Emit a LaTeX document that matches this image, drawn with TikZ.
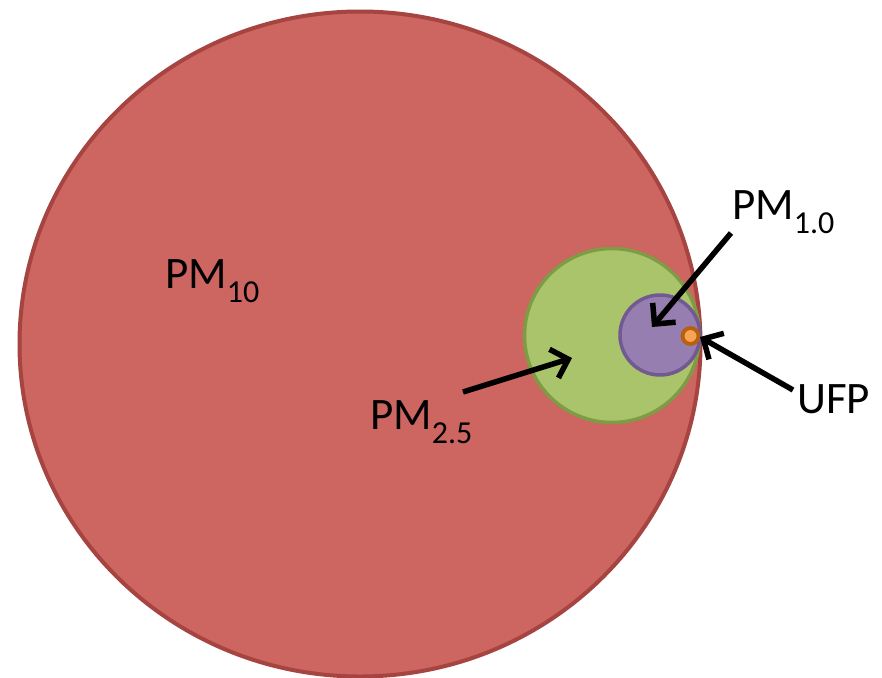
\documentclass[tikz,border=0pt]{standalone}
\usepackage{fontspec}
\setmainfont{Carlito}
\usetikzlibrary{shapes.geometric,arrows.meta}
\definecolor{redfill}{RGB}{205,101,96}
\definecolor{redline}{RGB}{165,68,64}
\definecolor{greenfill}{RGB}{170,196,108}
\definecolor{greenline}{RGB}{126,156,68}
\definecolor{purplefill}{RGB}{150,126,176}
\definecolor{purpleline}{RGB}{112,90,145}
\definecolor{orangefill}{RGB}{248,164,84}
\definecolor{orangeline}{RGB}{183,96,16}
\newcommand{\pmlabel}[2]{#1\raisebox{-14pt}{\fontsize{32}{32}\selectfont #2}}
\begin{document}
\begin{tikzpicture}[x=1pt,y=-1pt,
  blob/.style={ellipse,inner sep=0pt,outer sep=0pt},
  lbl/.style={inner sep=0pt,anchor=base west,font=\fontsize{45}{50}\selectfont},
  pointer/.style={line width=5.5pt,-{Straight Barb[length=15pt,width=30pt,line width=5.5pt]}}]
\useasboundingbox (0,0) rectangle (882,677);
\node[blob,draw=redline,line width=4pt,fill=redfill,minimum width=681pt,minimum height=665pt] (pm10c) at (360,344) {};
\node[blob,draw=greenline,line width=3.5pt,fill=greenfill,minimum width=175pt,minimum height=174pt] (pm25c) at (612,335.5) {};
\node[blob,draw=purpleline,line width=3.5pt,fill=purplefill,minimum width=80pt,minimum height=80pt] (pm1c) at (660,335) {};
\node[blob,draw=orangeline,line width=3.8pt,fill=orangefill,minimum width=16pt,minimum height=16pt] (ufpc) at (690.5,336) {};
\node[lbl] (pm10) at (165,288) {\pmlabel{PM}{10}};
\node[lbl] (pm25) at (370,429) {\pmlabel{PM}{2.5}};
\node[lbl] (pm1) at (732,219) {\pmlabel{PM}{1.0}};
\node[lbl] (ufp) at (797,413) {UFP};
\coordinate (a25s) at (463,392);
\coordinate (a25e) at (572,358);
\coordinate (a1s) at (731,233);
\coordinate (a1e) at (652,327);
\coordinate (aus) at (793,390);
\coordinate (aue) at (700,337);
\draw[pointer] (a25s) -- (a25e);
\draw[pointer] (a1s) -- (a1e);
\draw[pointer] (aus) -- (aue);
\end{tikzpicture}
\end{document}
